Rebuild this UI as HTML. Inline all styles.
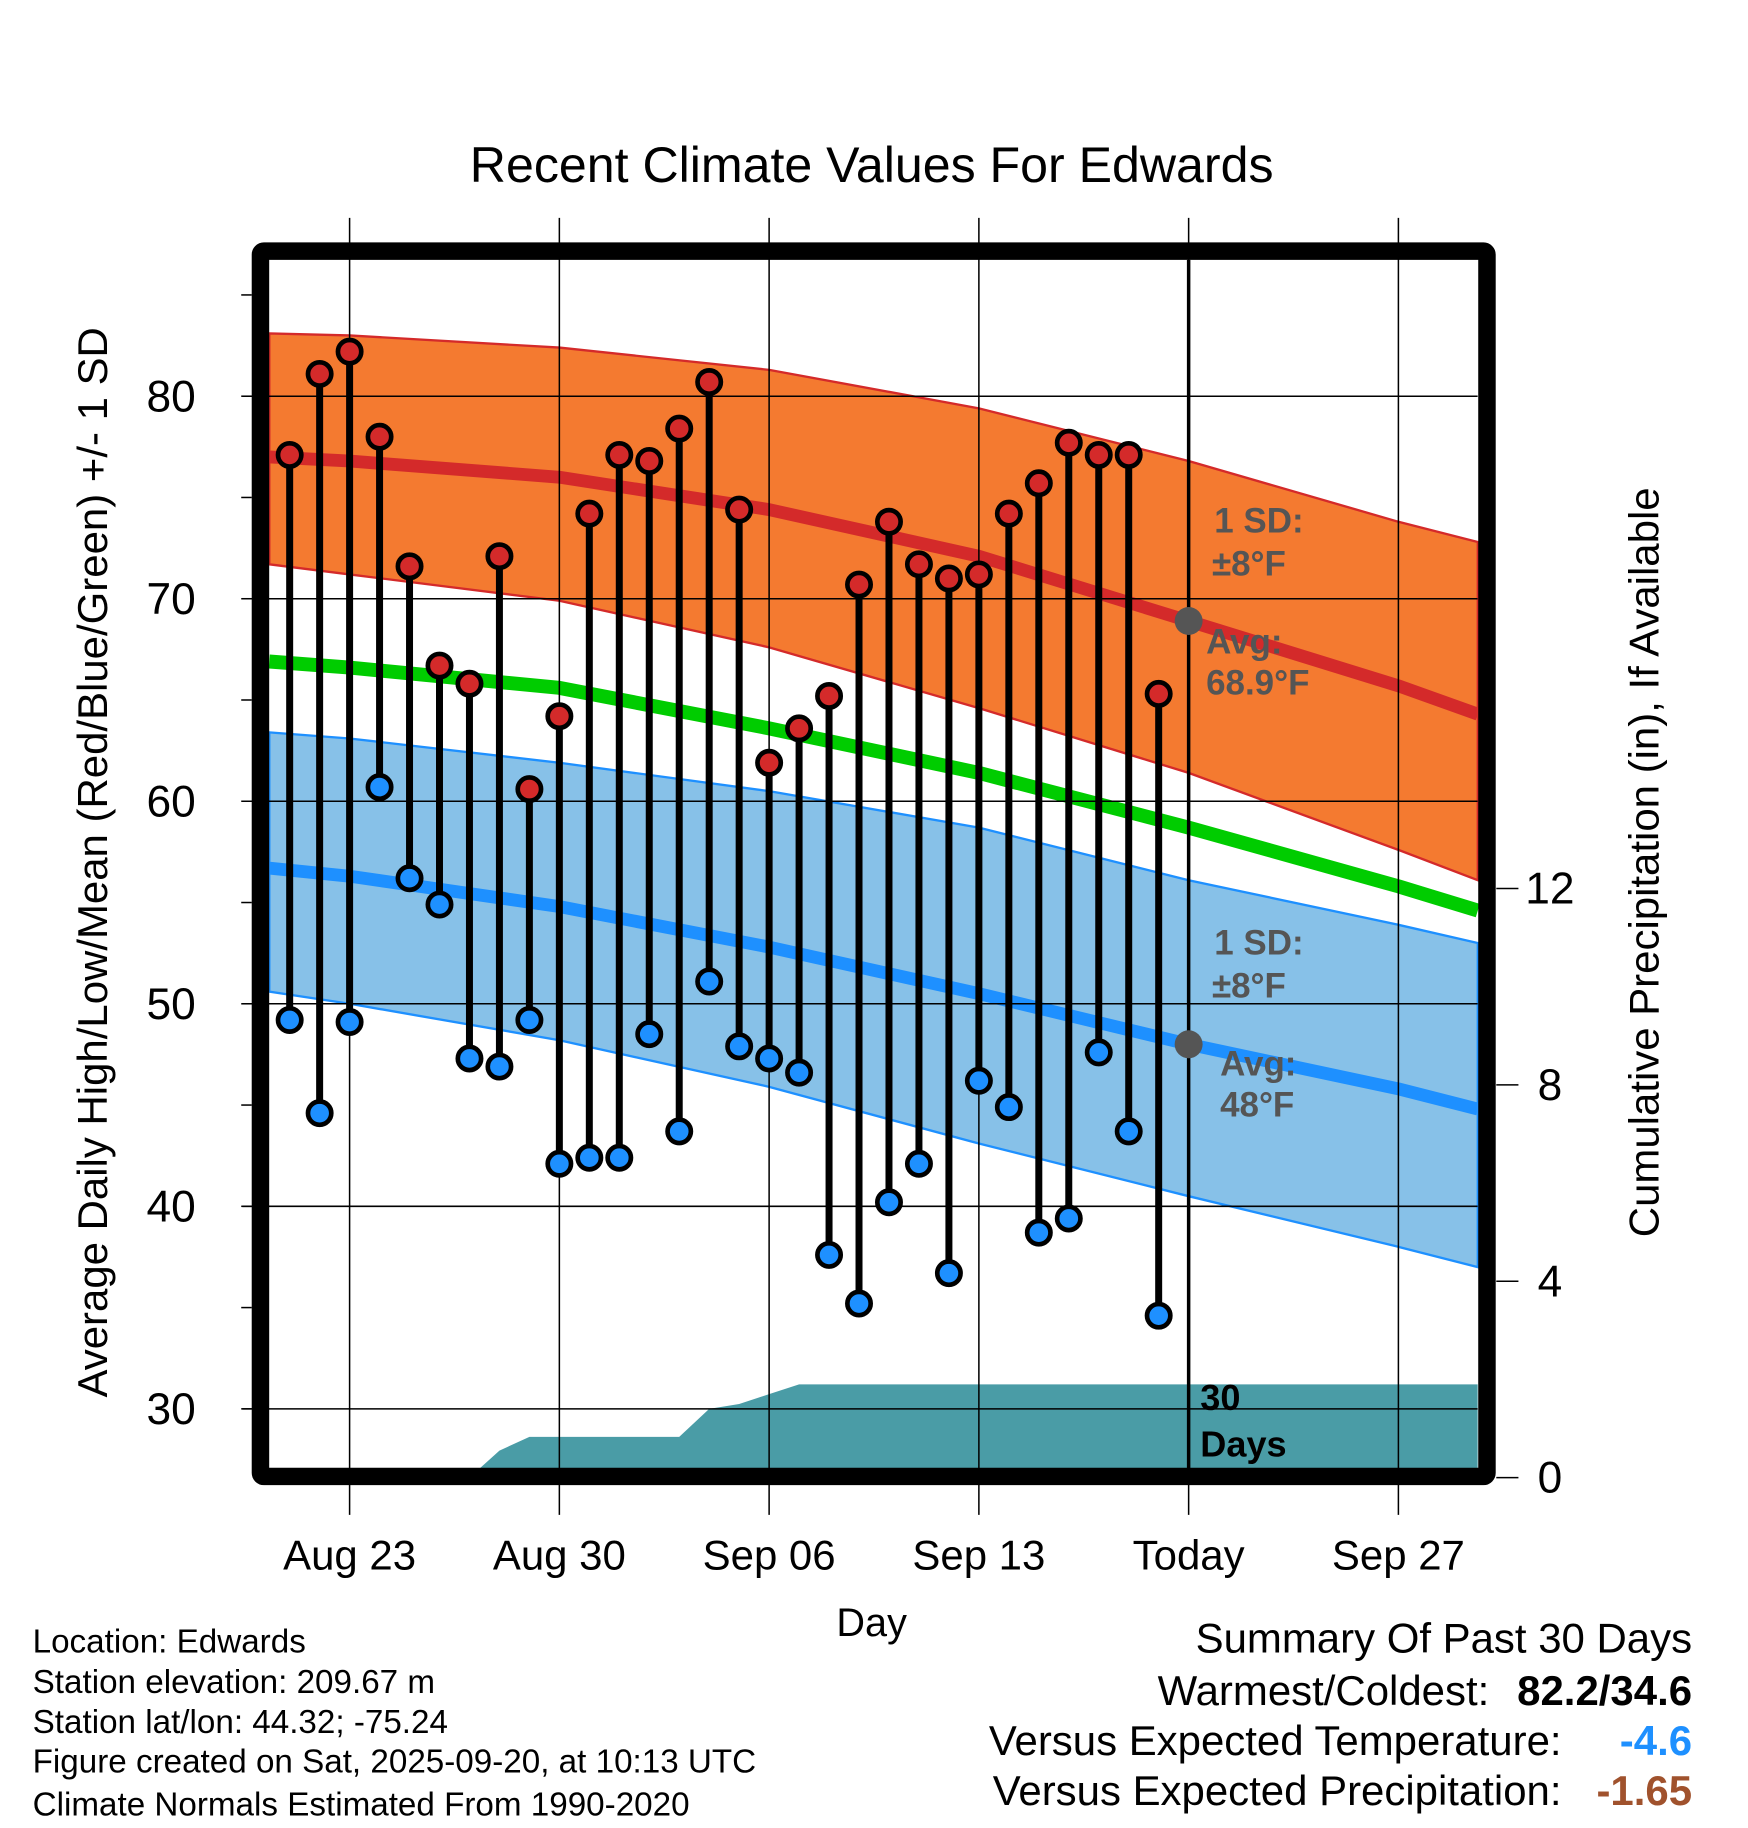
<!DOCTYPE html>
<html><head><meta charset="utf-8"><style>
html,body{margin:0;padding:0;background:#fff}
svg{display:block;font-family:"Liberation Sans",sans-serif}
</style></head><body>
<svg id="chart" width="1748" height="1828" viewBox="0 0 1500 1568.7" preserveAspectRatio="none" xmlns="http://www.w3.org/2000/svg">
<g id="bands"></g>
<g id="grid"></g>
<g id="marks"></g>
<g id="axes"></g>
<text x="748" y="156" font-size="43" text-anchor="middle">Recent Climate Values For Edwards</text>
<text transform="translate(92,740) rotate(-90)" font-size="36" text-anchor="middle">Average Daily High/Low/Mean (Red/Blue/Green) +/- 1 SD</text>
<text transform="translate(1423,740) rotate(-90)" font-size="36" text-anchor="middle">Cumulative Precipitation (in), If Available</text>
<text x="748" y="1404" font-size="34" text-anchor="middle">Day</text>
<g fill="#555" font-weight="bold" font-size="30">
<text x="1042" y="457">1 SD:</text><text x="1040" y="494">±8°F</text>
<text x="1035" y="561">Avg:</text><text x="1035" y="596">68.9°F</text></g>
<g fill="#555" font-weight="bold" font-size="30">
<text x="1042" y="819">1 SD:</text><text x="1040" y="856">±8°F</text>
<text x="1047" y="923">Avg:</text><text x="1047" y="958">48°F</text></g>
<g font-weight="bold" font-size="31">
<text x="1030" y="1210">30</text><text x="1030" y="1250">Days</text></g>
<g font-size="28.5">
<text x="28" y="1418">Location: Edwards</text>
<text x="28" y="1453">Station elevation: 209.67 m</text>
<text x="28" y="1487">Station lat/lon: 44.32; -75.24</text>
<text x="28" y="1521">Figure created on Sat, 2025-09-20, at 10:13 UTC</text>
<text x="28" y="1558">Climate Normals Estimated From 1990-2020</text></g>
<g font-size="36" text-anchor="end">
<text x="1452" y="1418">Summary Of Past 30 Days</text>
<text x="1278" y="1463">Warmest/Coldest:</text><text x="1452" y="1463" font-weight="bold">82.2/34.6</text>
<text x="1340" y="1506">Versus Expected Temperature:</text><text x="1452" y="1506" font-weight="bold" fill="#1e90ff">-4.6</text>
<text x="1340" y="1549">Versus Expected Precipitation:</text><text x="1452" y="1549" font-weight="bold" fill="#a0522d">-1.65</text></g>
</svg>
<script>
// days offset from Aug 23
const dayOffsets=[-2,-1,0,1,2,3,4,5,6,7,8,9,10,11,12,13,14,15,16,17,18,19,20,21,22,23,24,25,26,27];
const highs=[77.1,81.1,82.2,78.0,71.6,66.7,65.8,72.1,60.6,64.2,74.2,77.1,76.8,78.4,80.7,74.4,61.9,63.6,65.2,70.7,73.8,71.7,71.0,71.2,74.2,75.7,77.7,77.1,77.1,65.3];
const lows=[49.2,44.6,49.1,60.7,56.2,54.9,47.3,46.9,49.2,42.1,42.4,42.4,48.5,43.7,51.1,47.9,47.3,46.6,37.6,35.2,40.2,42.1,36.7,46.2,44.9,38.7,39.4,47.6,43.7,34.6];
const precip=[0,0,0,0,0,0,0,0.55,0.83,0.83,0.83,0.83,0.83,0.83,1.4,1.5,1.7,1.9,1.9,1.9,1.9,1.9,1.9,1.9,1.9,1.9,1.9,1.9,1.9,1.9];
const normKnots=[-2.68,0,7,14,21,28,35,37.65];
const avgHigh=[77.0,76.8,76.0,74.4,72.1,68.9,65.7,64.3];
const upperHigh=[83.1,83.0,82.4,81.3,79.4,76.8,73.8,72.8];
const lowerHigh=[71.7,71.2,69.9,67.6,64.6,61.4,57.6,56.1];
const avgMean=[66.9,66.6,65.6,63.6,61.4,58.7,55.8,54.6];
const avgLow=[56.7,56.3,54.8,52.8,50.5,48.0,45.8,44.8];
const upperLow=[63.4,63.1,61.9,60.5,58.7,56.1,53.9,53.0];
const lowerLow=[50.6,50.0,48.2,45.9,43.1,40.5,38.0,37.0];
const xTickDays=[0,7,14,21,28,35];
const xTickLabels=["Aug 23","Aug 30","Sep 06","Sep 13","Today","Sep 27"];
const yTicks=[30,40,50,60,70,80];
const y2Ticks=[0,4,8,12];

const X=d=>300+d*180/7;
const Y=v=>340+(80-v)*17.38;
const P=p=>1268-p*42.125;
const L=231,R=1268,T=223,B=1260;
const NS="http://www.w3.org/2000/svg";
function mk(parent,tag,attrs){const e=document.createElementNS(NS,tag);for(const k in attrs)e.setAttribute(k,attrs[k]);document.getElementById(parent).appendChild(e);return e;}
function pts(arr){return normKnots.map((d,i)=>X(d)+","+Y(arr[i])).join(" ");}
function bandPts(a,b){return pts(a)+" "+normKnots.slice().reverse().map((d,i)=>X(d)+","+Y(b[b.length-1-i])).join(" ");}

let e;
e=mk("bands","polygon",{points:bandPts(upperHigh,lowerHigh),fill:"#f47a30",stroke:"#d42a2a","stroke-width":2});


e=mk("bands","polygon",{points:bandPts(upperLow,lowerLow),fill:"#87c1e8",stroke:"#1e90ff","stroke-width":2});


let pp=`${X(dayOffsets[0])},${B} `+dayOffsets.map((d,i)=>X(d)+","+P(precip[i])).join(" ")+` ${R},${P(precip[precip.length-1])} ${R},${B}`;
e=mk("bands","polygon",{points:pp,fill:"#4a9ca6"});


e=mk("bands","polyline",{points:pts(avgHigh),fill:"none",stroke:"#d42a2a","stroke-width":11,"stroke-linejoin":"round"});


e=mk("bands","polyline",{points:pts(avgMean),fill:"none",stroke:"#00cc00","stroke-width":12,"stroke-linejoin":"round"});


e=mk("bands","polyline",{points:pts(avgLow),fill:"none",stroke:"#1e90ff","stroke-width":11,"stroke-linejoin":"round"});



yTicks.forEach(v=>{
 e=mk("grid","line",{x1:208,x2:R,y1:Y(v),y2:Y(v),stroke:"#000","stroke-width":1.3});
 
 
 e=mk("axes","text",{x:168,y:Y(v)+13,"font-size":38,"text-anchor":"end"});e.textContent=v;
 
 
});
for(let v=25;v<=85;v+=5){if(Y(v)<200||Y(v)>1268)continue;
 e=mk("axes","line",{x1:207,x2:216,y1:Y(v),y2:Y(v),stroke:"#000","stroke-width":1.3});
 
 }
xTickDays.forEach((d,i)=>{
 e=mk("grid","line",{x1:X(d),x2:X(d),y1:187,y2:1300,stroke:"#000","stroke-width":1.3});
 
 
 e=mk("axes","text",{x:X(d),y:1347,"font-size":36,"text-anchor":"middle"});e.textContent=xTickLabels[i];
 
 
});
y2Ticks.forEach(p=>{
 e=mk("axes","line",{x1:1284,x2:1303,y1:P(p),y2:P(p),stroke:"#000","stroke-width":1.3});
 
 
 e=mk("axes","text",{x:1330,y:P(p)+13,"font-size":38,"text-anchor":"middle"});e.textContent=p;
 
 
});
e=mk("marks","line",{x1:X(28),x2:X(28),y1:T,y2:B,stroke:"#000","stroke-width":3});


e=mk("marks","circle",{cx:X(28),cy:Y(68.9),r:12,fill:"#555"});


e=mk("marks","circle",{cx:X(28),cy:Y(48),r:12,fill:"#555"});


dayOffsets.forEach((d,i)=>{
 e=mk("marks","line",{x1:X(d),x2:X(d),y1:Y(highs[i]),y2:Y(lows[i]),stroke:"#000","stroke-width":6});
 
 
});
dayOffsets.forEach((d,i)=>{
 e=mk("marks","circle",{cx:X(d),cy:Y(highs[i]),r:10,fill:"#d42a2a",stroke:"#000","stroke-width":4});
 
 
 e=mk("marks","circle",{cx:X(d),cy:Y(lows[i]),r:10,fill:"#1e90ff",stroke:"#000","stroke-width":4});
 
 
});
e=mk("marks","rect",{x:223.5,y:215.5,width:1052.5,height:1051.5,fill:"none",stroke:"#000","stroke-width":15,rx:3});


</script>
</body></html>
